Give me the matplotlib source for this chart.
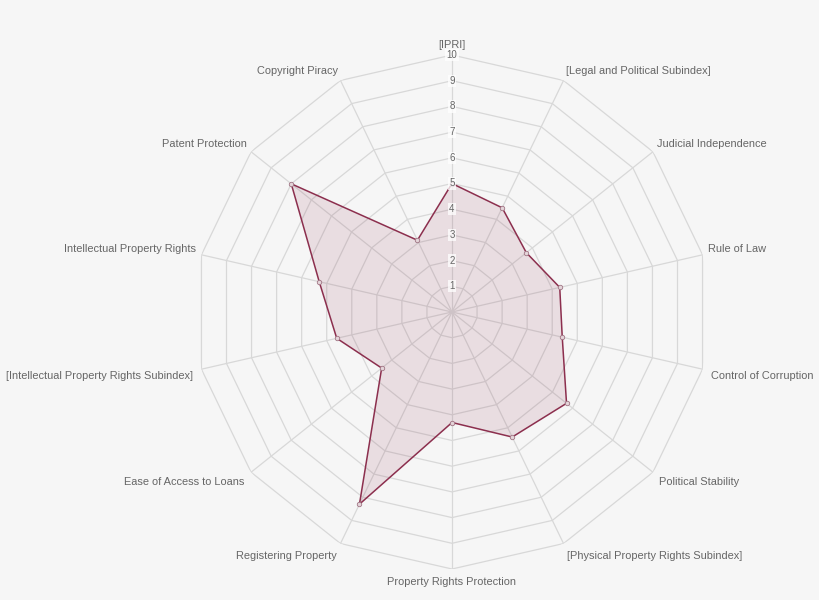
import numpy as np
import matplotlib
matplotlib.use("Agg")
import matplotlib.pyplot as plt

categories = [
    "[IPRI]",
    "[Legal and Political Subindex]",
    "Judicial Independence",
    "Rule of Law",
    "Control of Corruption",
    "Political Stability",
    "[Physical Property Rights Subindex]",
    "Property Rights Protection",
    "Registering Property",
    "Ease of Access to Loans",
    "[Intellectual Property Rights Subindex]",
    "Intellectual Property Rights",
    "Patent Protection",
    "Copyright Piracy",
]
values = [5.0, 4.5, 3.7, 4.3, 4.4, 5.7, 5.4, 4.3, 8.3, 3.5, 4.6, 5.3, 8.0, 3.1]
tick_values = [1, 2, 3, 4, 5, 6, 7, 8, 9, 10]
r_max = 10

bg = "#f6f6f6"
grid_color = "#d8d8d8"
line_color = "#8c2f4e"
label_color = "#666666"

plt.rcParams["font.family"] = ["Liberation Sans", "DejaVu Sans"]

fig = plt.figure(figsize=(8.2, 6.0), dpi=100, facecolor=bg)
ax = fig.add_axes([195 / 820, 31 / 600, 514 / 820, 514 / 600], projection="polar")
ax.set_facecolor("none")
ax.set_theta_zero_location("N")
ax.set_theta_direction(-1)
ax.set_ylim(0, r_max)
ax.grid(False)
ax.set_xticks([])
ax.set_yticks([])
ax.spines["polar"].set_visible(False)

n = len(categories)
angles = np.arange(n) * 2 * np.pi / n
closed = np.append(angles, angles[0])

# polygon grid rings
for t in tick_values:
    ax.plot(closed, [t] * (n + 1), color=grid_color, lw=0.9, zorder=1)
# spokes
for a in angles:
    ax.plot([a, a], [0, r_max], color=grid_color, lw=0.9, zorder=1)

# data
vals_closed = values + values[:1]
ax.fill(closed, vals_closed, color=line_color, alpha=0.12, zorder=2, lw=0)
ax.plot(closed, vals_closed, color=line_color, lw=1.1, zorder=3)
ax.plot(angles, values, ls="none", marker="o", ms=3.2, mfc="#e4d4d9",
        mec="#a07584", mew=0.6, zorder=4)

# tick labels
for t in tick_values:
    ax.text(0, t, str(t), ha="center", va="center", fontsize=7, color=label_color,
            zorder=5,
            bbox=dict(boxstyle="square,pad=0.12", fc=(1, 1, 1, 0.75), ec="none"))

# category labels
for a, lab in zip(angles, categories):
    s, c = np.sin(a), np.cos(a)
    if abs(s) < 1e-6:
        ha = "center"
    elif s > 0:
        ha = "left"
    else:
        ha = "right"
    if c > 1e-6:
        va, rr = "bottom", r_max + 0.2
    else:
        va, rr = "top", r_max + 0.32
    ax.text(a, rr, lab, ha=ha, va=va, fontsize=7.9, color=label_color)

fig.savefig("out.png", dpi=100, facecolor=bg)
